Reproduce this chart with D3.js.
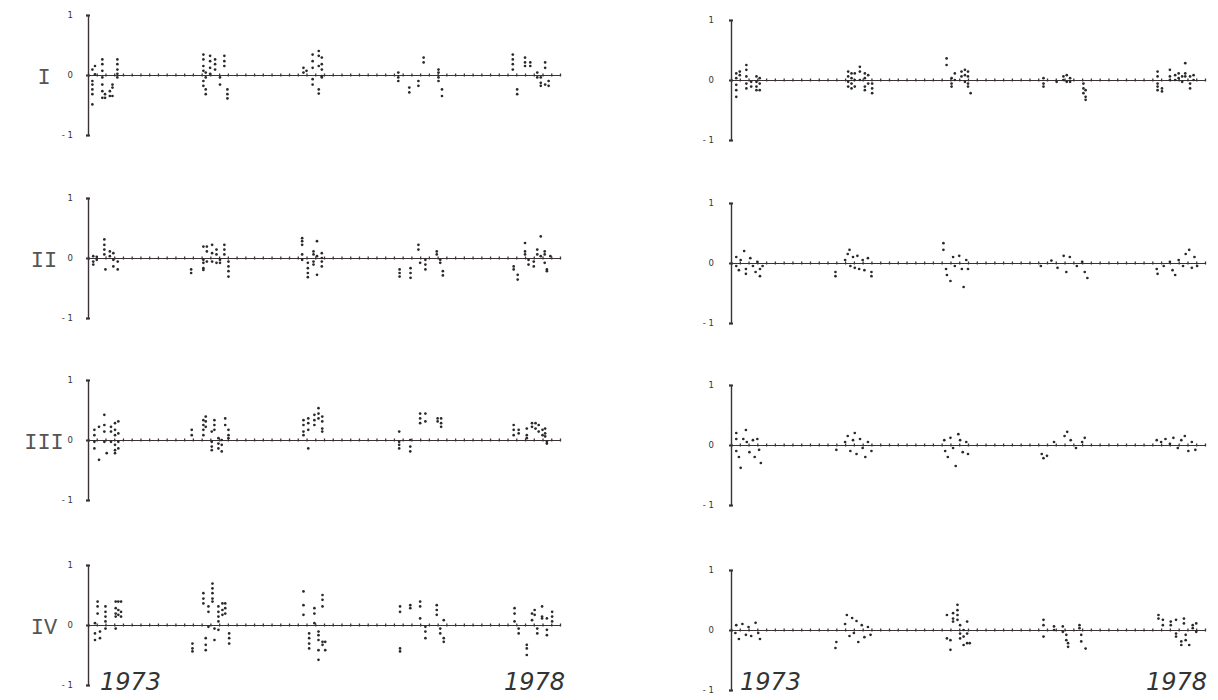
<!DOCTYPE html>
<html><head><meta charset="utf-8">
<script src="https://cdn.jsdelivr.net/npm/d3@7"></script>
<style>body{margin:0;background:#fff}svg{display:block}</style>
</head><body><svg id="c" width="1218" height="700"></svg>
<script>
// ---- data: each panel is a list of [time index, [values...]] columns ----
const rowLabels = ["I", "II", "III", "IV"];
const yTicks = [-1, 0, 1];
const yearLabels = ["1973", "1978"];
const timeSteps = 54;

const left1 = [[0.5,[.09,-.1,-.16,-.24,-.32,-.49]],[0.8,[.15,.01]],[1.64,[.26,.18,.07,-.04,-.16,-.27,-.38]],[1.95,[-.32,-.38]],[2.5,[-.27,-.35]],[2.8,[-.16,-.21,-.35]],[3.36,[.26,.18,.09,.02,-.04]],
[13.2,[.34,.26,.15,.07,-.1,-.18]],[13.47,[.04,-.04,-.24,-.32]],[13.97,[.32,.23,.12,.02]],[14.54,[.26,.18,.09]],[15.1,[-.04,-.16]],[15.6,[.32,.23,.15]],[15.95,[-.24,-.32,-.39]],
[24.65,[.12,.04]],[25.0,[.07]],[25.7,[.34,.23,.12,-.07,-.16]],[26.4,[.4,.32,.15,-.24,-.31]],[26.75,[.29,.18,.09,-.02,-.04]],
[35.5,[.04,-.04,-.1]],[36.76,[-.21,-.29]],[37.8,[-.1,-.18]],[38.4,[.29,.21]],[40.1,[.09,.04,-.04,-.1]],[40.5,[-.24,-.35]],
[48.6,[.34,.26,.18,.09]],[49.1,[-.24,-.32]],[50.0,[.29,.21,.15]],[50.6,[.21,.15]],[51.4,[.04,-.04]],[51.8,[-.04,-.13,-.18]],[52.3,[.21,.12,-.16]],[52.7,[-.1,-.18]]];

const left2 = [[0.6,[.03,-.06,-.11]],[1.0,[.02,-.03]],[1.87,[.31,.22,.14,.06]],[2.0,[-.19]],[2.5,[.11,.03]],[2.9,[.08,-.03,-.14]],[3.4,[-.06,-.19]],
[11.8,[-.19,-.25]],[13.2,[.19,-.03,-.08,-.17,-.2]],[13.6,[.19,.11,-.06]],[14.2,[.22,.08,-.06]],[14.7,[.14,.06,-.08]],[15.1,[-.03,-.08]],[15.6,[.22,.14,.06]],[16.07,[-.06,-.14,-.22,-.31]],
[24.5,[.33,.28,.22,.06,-.03]],[25.15,[-.08,-.17,-.25,-.32]],[25.8,[.11,.06,-.06,-.11]],[26.2,[.28,.03,-.28]],[26.75,[.08,0,-.06,-.14]],
[35.65,[-.19,-.25,-.31]],[36.9,[-.17,-.25,-.33]],[37.8,[.22,.14]],[38.0,[-.08]],[38.6,[-.03,-.11,-.19]],[39.9,[.11,.06]],[40.3,[-.03,-.08]],[40.6,[-.22,-.29]],
[48.7,[-.14,-.19]],[49.16,[-.28,-.36]],[50.0,[.25,.11,.06]],[50.4,[-.03,-.11]],[51.0,[-.06,-.14]],[51.4,[.14,.06]],[51.8,[.36,.03]],[52.25,[.11,.06,-.08]],[52.5,[-.19,-.22]],[52.9,[.03]]];

const left3 = [[0.73,[.17,.08,-.03,-.14]],[1.26,[.22,-.33]],[1.87,[.42,.25,.14,-.03]],[2.14,[-.22]],[2.63,[.22,.14,-.03]],[3.09,[.28,.17,.08,-.08,-.17,-.22]],[3.47,[.31,.11,-.03,-.14]],
[11.87,[.17,.08]],[13.2,[.33,.25,.17,.08]],[13.47,[.39,.31,.22]],[14.16,[.14,-.03,-.11,-.17]],[14.46,[.33,.25,.17]],[14.92,[.03,-.06,-.14]],[15.3,[0,-.08,-.19]],[15.7,[.36,.25]],[16.07,[.17,.08,.03]],
[24.65,[.33,.25,.14,.08]],[25.2,[.36,.28,.17,-.14]],[25.9,[.42,.33,.25]],[26.37,[.53,.44,.36]],[26.8,[.39,.31,.19,.14]],
[35.6,[.14,-.03,-.08,-.14]],[36.87,[0,-.11,-.19]],[38.0,[.44,.36,.28]],[38.6,[.44,.31]],[40.0,[.36,.31]],[40.4,[.36,.28,.22]],
[48.7,[.25,.17,.08]],[49.27,[.17,.11]],[50.2,[.19,.08,.03]],[50.8,[.28,.22]],[51.2,[.28,.19]],[51.56,[.25,.14]],[52.0,[.17,.08]],[52.3,[.19,.11,.06]],[52.5,[-.03,-.06]]];

const left4 = [[0.8,[.03,-.14,-.25]],[1.1,[.39,.31,.19]],[1.37,[-.11,-.22]],[2.0,[.31,.22,.14,.06,-.06]],[3.17,[.39,.28,.19,.14,-.06]],[3.47,[.39,.25,.17]],[3.78,[.39,.22,.14]],
[11.95,[-.31,-.39,-.44]],[13.2,[.53,.44,.36]],[13.47,[-.22,-.33,-.42]],[13.78,[.31,.22,-.03]],[14.24,[.69,.61,.53,.44,.39]],[14.47,[-.06,-.25]],[14.92,[.31,.22,.14,.06,-.08]],[15.38,[.36,.25,.17]],[15.7,[.36,.28,.19]],[16.15,[-.14,-.22,-.31]],
[24.65,[.56,.33,.17]],[25.3,[-.14,-.22,-.31,-.39]],[25.9,[.28,.19,.03]],[26.37,[-.11,-.17,-.25,-.42,-.58]],[26.83,[.5,.42,.31,-.28,-.33]],[27.14,[-.28,-.42]],
[35.7,[.31,.22,-.39,-.44]],[36.87,[.33,.28]],[38.0,[.39,.31,.11]],[38.6,[-.03,-.11,-.22]],[39.9,[.33,.25,.17]],[40.3,[-.06,-.14]],[40.7,[.08,-.22,-.28]],
[48.8,[.28,.19,.06]],[49.27,[-.06,-.14]],[50.2,[-.33,-.39,-.5]],[50.8,[.19,.08]],[51.1,[.25,.17]],[51.4,[-.06,-.14]],[51.95,[.31,.14,.11]],[52.5,[.11,-.08,-.17]],[53.1,[.22,.14,.06]]];

const right1 = [[0.6,[.11,.03,-.08,-.17,-.28]],[1.0,[.14,.08]],[1.75,[.25,.17,.06,-.06,-.14]],[2.3,[-.03,-.11]],[2.9,[.06,-.03,-.11,-.17]],[3.27,[.03,-.06,-.17]],
[13.35,[.14,.06,-.03,-.11]],[13.73,[.11,.03,-.06,-.14]],[14.1,[.11,0,-.11]],[14.68,[.22,.14,0]],[15.25,[.11,.03,-.11,-.17]],[15.63,[.08,-.06]],[16.08,[-.06,-.14,-.22]],
[24.56,[.36,.25]],[25.13,[.03,-.06,-.11]],[25.5,[.11,0]],[26.26,[.14,.06]],[26.65,[.17,.08,-.03]],[27.0,[.14,.06,-.06,-.11]],[27.3,[-.22]],
[35.6,[.03,-.06,-.11]],[37.1,[-.03]],[37.87,[.06,0]],[38.25,[.08,-.03]],[38.63,[.03,-.03]],[40.15,[-.06,-.14,-.22]],[40.4,[-.17,-.28,-.33]],
[48.6,[.14,.06,-.06,-.11,-.17]],[49.1,[-.14,-.19]],[50.0,[.17,.06,0]],[50.6,[.08,0]],[51.0,[.11,.03]],[51.4,[.06,-.03]],[51.75,[.28,.11,.06]],[52.3,[.06,-.06,-.14]],[52.7,[.08,0]]];

const right2 = [[0.6,[.1,-.05]],[0.9,[-.12]],[1.1,[.05]],[1.5,[.2]],[1.7,[-.1,-.18]],[2.2,[.08]],[2.5,[-.05]],[2.8,[-.15]],[3.0,[.02]],[3.3,[-.1,-.22]],[3.6,[-.05]],
[11.9,[-.15,-.22]],[13.0,[.05]],[13.3,[.15]],[13.5,[.22]],[13.6,[-.05]],[13.9,[.1]],[14.1,[-.08]],[14.4,[.12]],[14.6,[-.1]],[15.0,[.05]],[15.2,[-.12]],[15.6,[.08]],[16.0,[-.15,-.22]],
[24.2,[.33,.22]],[24.5,[-.1]],[24.6,[-.2]],[25.0,[-.3]],[25.3,[.1]],[25.5,[-.05]],[26.0,[.12]],[26.3,[-.1]],[26.5,[-.4]],[26.8,[.05]],[27.0,[-.1]],
[35.3,[-.05]],[36.5,[.04]],[37.2,[-.08]],[37.9,[.12]],[38.2,[-.15]],[38.6,[.1]],[39.4,[-.05]],[40.0,[.02]],[40.3,[-.15]],[40.6,[-.25]],
[48.5,[-.1]],[48.6,[-.18]],[49.3,[-.05]],[50.0,[.02]],[50.3,[-.12]],[50.6,[-.2]],[51.0,[.05]],[51.5,[-.05]],[51.8,[.15]],[52.2,[.22]],[52.5,[-.08]],[52.8,[.1]],[53.1,[-.05]]];

const right3 = [[0.6,[.2,.1,-.1]],[0.9,[-.2]],[1.1,[-.38]],[1.4,[.1]],[1.7,[.25]],[1.8,[.05]],[2.1,[-.12]],[2.5,[.08]],[2.7,[-.2]],[3.0,[.1]],[3.2,[-.08]],[3.4,[-.3]],
[12.0,[-.08]],[13.0,[.05]],[13.3,[.15]],[13.6,[-.1]],[13.9,[.08]],[14.1,[.2]],[14.3,[-.15]],[14.7,[.1]],[15.0,[-.05]],[15.3,[-.2]],[15.6,[.05]],[16.0,[-.1]],
[24.3,[.08]],[24.4,[-.1]],[24.7,[-.2]],[25.0,[.12]],[25.3,[-.05]],[25.6,[-.35]],[25.9,[.18]],[26.1,[.08]],[26.4,[-.12]],[26.8,[.05]],[27.0,[-.15]],
[35.4,[-.15]],[35.6,[-.22]],[36.0,[-.18]],[36.8,[.05]],[38.0,[.15]],[38.3,[.22]],[38.7,[.08]],[39.3,[-.05]],[40.0,[.05]],[40.3,[.12]],
[48.5,[.08]],[49.0,[.05]],[49.5,[.1]],[50.0,[.02]],[50.4,[.12]],[50.9,[-.05]],[51.3,[.08]],[51.7,[.15]],[52.1,[-.1]],[52.5,[.05]],[52.9,[-.08]]];

const right4 = [[0.5,[-.05]],[0.6,[.08]],[0.9,[-.15]],[1.3,[.1]],[1.7,[-.08]],[2.0,[.05]],[2.3,[-.1]],[2.8,[.12]],[3.1,[-.05]],[3.3,[-.15]],
[11.9,[-.3]],[12.0,[-.2]],[13.0,[.1]],[13.2,[.25]],[13.5,[-.1]],[13.8,[.2]],[14.0,[-.05]],[14.3,[.15]],[14.5,[-.2]],[14.9,[.08]],[15.2,[-.12]],[15.6,[.05]],[15.9,[-.08]],
[24.6,[.25,-.14]],[25.0,[-.17,-.33]],[25.3,[.28,.19,.14]],[25.8,[.42,.33,.25,.17]],[26.1,[.08,-.06,-.14]],[26.5,[0,-.11,-.25]],[26.9,[.14,-.06,-.22]],[27.2,[-.22]],
[35.6,[.17,.08,-.11]],[36.8,[.06,0]],[37.8,[.06,-.03]],[38.2,[-.08,-.17]],[38.4,[-.22,-.28]],[39.7,[.08,.03]],[39.9,[-.08,-.19]],[40.4,[-.31]],
[48.7,[.25,.19]],[49.2,[.17,.08]],[50.1,[.14,.08]],[50.7,[.17,-.06,-.11]],[51.3,[-.19,-.25]],[51.6,[.19,.11]],[51.8,[-.08,-.17]],[52.2,[-.25]],[52.6,[.08,.03]],[53.0,[.11,-.03]]];

// ---- layout ----
const ink = "#3a3238";
const columns = [
  {x0: 88, x1: 560, zeros: [75, 258, 440, 625], data: [left1, left2, left3, left4], pad: 13, years: [100, 565]},
  {x0: 731, x1: 1205, zeros: [80, 263, 445, 630], data: [right1, right2, right3, right4], pad: 15, years: [740, 1207]}
];
const svg = d3.select("#c");

columns.forEach((col, ci) => {
  const x = d3.scaleLinear().domain([0, timeSteps]).range([col.x0, col.x1]);
  col.zeros.forEach((z, ri) => {
    const y = d3.scaleLinear().domain([-1, 1]).range([z + 60, z - 60]);
    const g = svg.append("g");

    // zero line with small tick dots
    const xa = g.append("g").attr("transform", `translate(0,${y(0)})`)
      .call(d3.axisBottom(x).tickValues(d3.range(0, timeSteps + 1)).tickSize(0).tickFormat(""));
    xa.select(".domain").attr("stroke", ink).attr("stroke-width", 1.1);
    xa.selectAll(".tick line").attr("y1", -1.5).attr("y2", 1.5).attr("stroke", ink).attr("stroke-width", 1.3);

    // y axis
    const ya = g.append("g").attr("transform", `translate(${x(0)},0)`)
      .call(d3.axisLeft(y).tickValues(yTicks).tickSize(2).tickPadding(col.pad).tickFormat(d3.format("d")));
    ya.select(".domain").attr("stroke", ink).attr("stroke-width", 1.4);
    ya.selectAll(".tick line").attr("x2", 2).attr("x1", -2).attr("stroke", ink).attr("stroke-width", 2);
    ya.selectAll(".tick text").attr("font-family", "DejaVu Sans, sans-serif").attr("font-size", 8.5).attr("fill", "#333")
      .text(d => d === -1 ? "- 1" : d);

    // points
    const pts = col.data[ri].flatMap(([t, vs]) => vs.map(v => [t, v]));
    g.selectAll("circle").data(pts).join("circle")
      .attr("cx", d => x(d[0])).attr("cy", d => y(d[1])).attr("r", 1.35)
      .attr("fill", "#2a2a2a");

    if (ci === 0) {
      svg.append("text").attr("x", 44).attr("y", z + 3)
        .attr("text-anchor", "middle").attr("dominant-baseline", "central")
        .attr("font-family", "Liberation Mono, monospace").attr("font-size", 22).attr("fill", "#555")
        .text(rowLabels[ri]);
    }
    if (ri === 3) {
      svg.append("text").attr("x", col.years[0]).attr("y", 690)
        .attr("font-family", "DejaVu Sans, sans-serif").attr("font-style", "italic").attr("font-size", 24)
        .attr("fill", "#333").attr("font-weight", 300).text(yearLabels[0]);
      svg.append("text").attr("x", col.years[1]).attr("y", 690).attr("text-anchor", "end")
        .attr("font-family", "DejaVu Sans, sans-serif").attr("font-style", "italic").attr("font-size", 24)
        .attr("fill", "#333").attr("font-weight", 300).text(yearLabels[1]);
    }
  });
});
</script></body></html>
